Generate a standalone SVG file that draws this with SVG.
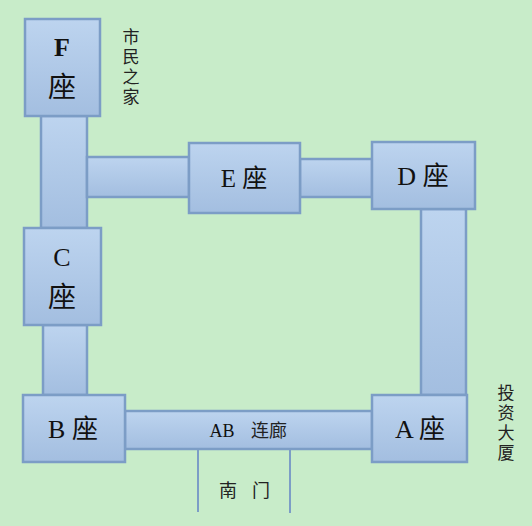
<svg xmlns="http://www.w3.org/2000/svg" width="532" height="526" viewBox="0 0 532 526">
<defs>
<linearGradient id="g" x1="0" y1="0" x2="0" y2="1">
<stop offset="0" stop-color="#bdd4ef"/>
<stop offset="1" stop-color="#a3bee0"/>
</linearGradient>
<style>
.b{fill:url(#g);stroke:#7c9dc6;stroke-width:2.5}
.t{font-family:"Liberation Serif","Noto Sans CJK SC",serif;fill:#111;text-anchor:middle}
.cn{font-family:"Noto Sans CJK SC","Liberation Sans",sans-serif;fill:#222;text-anchor:middle;font-size:18px}
.v{font-family:"Noto Sans CJK SC","Liberation Sans",sans-serif;fill:#222;font-size:17px;writing-mode:vertical-rl;letter-spacing:3px}
.l{stroke:#7c9dc6;stroke-width:2;fill:none}
</style>
</defs>
<rect width="532" height="526" fill="#c8ecc9"/>
<g id="connectors">
<rect class="b" x="41" y="116" width="46" height="112"/>
<rect class="b" x="87" y="157" width="102" height="40"/>
<rect class="b" x="300" y="159" width="72" height="38"/>
<rect class="b" x="421" y="209" width="45" height="186"/>
<rect class="b" x="43" y="325" width="44" height="70"/>
<g id="AB">
<rect class="b" x="125" y="411" width="247" height="38"/>
<text class="t" x="222" y="437" font-size="18">AB</text>
<text class="cn" x="269" y="437" font-size="20">连廊</text>
</g>
<line class="l" x1="198" y1="449" x2="198" y2="512"/>
<line class="l" x1="290" y1="449" x2="290" y2="513"/>
</g>
<g id="F">
<rect class="b" x="25" y="19" width="75" height="97"/>
<text class="t" x="62" y="56" font-size="26" font-weight="bold">F</text>
<text class="t" x="62" y="97" font-size="28">座</text>
</g>
<g id="C">
<rect class="b" x="24" y="228" width="77" height="97"/>
<text class="t" x="62" y="266" font-size="26">C</text>
<text class="t" x="62" y="307" font-size="28">座</text>
</g>
<g id="E">
<rect class="b" x="189" y="143" width="111" height="70"/>
<text class="t" x="244" y="187" font-size="25">E 座</text>
</g>
<g id="D">
<rect class="b" x="372" y="142" width="103" height="67"/>
<text class="t" x="423" y="185" font-size="26">D 座</text>
</g>
<g id="B">
<rect class="b" x="23" y="395" width="102" height="67"/>
<text class="t" x="73" y="438" font-size="26">B 座</text>
</g>
<g id="A">
<rect class="b" x="372" y="395" width="95" height="67"/>
<text class="t" x="420" y="438" font-size="26">A 座</text>
</g>
<g id="labels">
<text class="cn" x="228" y="497">南</text>
<text class="cn" x="261" y="497">门</text>
<text class="v" x="131" y="28">市民之家</text>
<text class="v" x="506" y="384">投资大厦</text>
</g>
</svg>
